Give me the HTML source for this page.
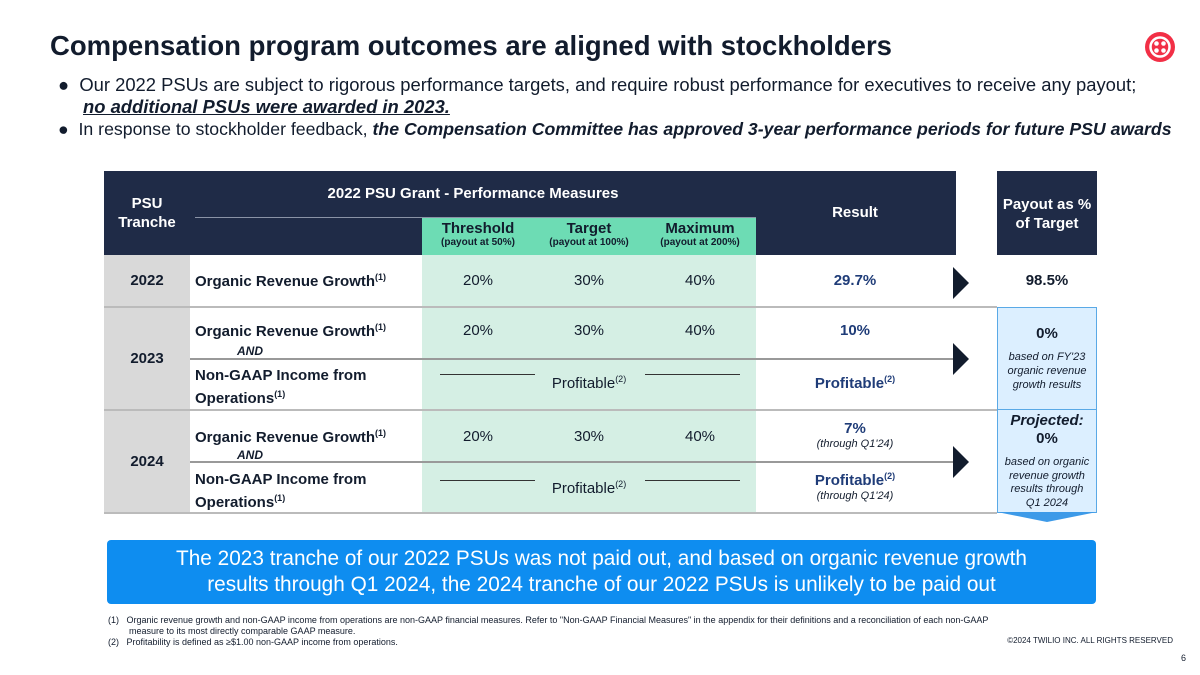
<!DOCTYPE html>
<html><head><meta charset="utf-8"><style>
*{margin:0;padding:0;box-sizing:border-box}
body{width:1200px;height:675px;background:#fff;font-family:"Liberation Sans","DejaVu Sans",sans-serif;position:relative;overflow:hidden;color:#121c2d}
.a{position:absolute}
.c{text-align:center}
.b{font-weight:bold}
.i{font-style:italic}
sup{font-size:9px}
.hd{color:#fff;font-weight:bold;font-size:15px}
.m{font-size:15px;font-weight:bold}
.v{font-size:15px}
.r{color:#1f3c78;font-weight:bold;font-size:15px}
.line{background:#999;height:2px}
.arrow{width:0;height:0;border-top:16px solid transparent;border-bottom:16px solid transparent;border-left:16px solid #121c2d}
.sm{font-size:11px}
</style></head><body>
<div class="a b" style="left:50px;top:30px;font-size:27.5px">Compensation program outcomes are aligned with stockholders</div>
<svg class="a" style="left:1145px;top:32px" width="30" height="30"><circle cx="15" cy="15" r="15" fill="#f22f46"/><circle cx="15" cy="15" r="9.5" fill="none" stroke="#fff" stroke-width="2.5"/><circle cx="11.5" cy="11.5" r="2.3" fill="#fff"/><circle cx="18.5" cy="11.5" r="2.3" fill="#fff"/><circle cx="11.5" cy="18.5" r="2.3" fill="#fff"/><circle cx="18.5" cy="18.5" r="2.3" fill="#fff"/></svg>
<div class="a" style="left:58px;top:74px;font-size:18.4px;line-height:22px;width:1130px;white-space:nowrap">● &nbsp;Our 2022 PSUs are subject to rigorous performance targets, and require robust performance for executives to receive any payout;<br><span style="margin-left:25px" class="b i"><u>no additional PSUs were awarded in 2023.</u></span></div>
<div class="a" style="left:58px;top:119px;font-size:17.7px;white-space:nowrap">● &nbsp;In response to stockholder feedback, <b><i>the Compensation Committee has approved 3-year performance periods for future PSU awards</i></b></div>

<div class="a" style="left:104px;top:171px;width:852px;height:84px;background:#1f2b47"></div>
<div class="a" style="left:997px;top:171px;width:100px;height:84px;background:#1f2b47"></div>
<div class="a hd c" style="left:104px;top:194px;width:86px;line-height:19px">PSU<br>Tranche</div>
<div class="a hd c" style="left:190px;top:185px;width:566px">2022 PSU Grant - Performance Measures</div>
<div class="a" style="left:195px;top:217px;width:561px;height:1px;background:#8a93a6"></div>
<div class="a" style="left:422px;top:218px;width:334px;height:37px;background:#6ddcb4"></div>
<div class="a b c" style="left:422px;top:220px;width:112px;font-size:15px">Threshold<div style="font-size:10px">(payout at 50%)</div></div>
<div class="a b c" style="left:534px;top:220px;width:110px;font-size:15px">Target<div style="font-size:10px">(payout at 100%)</div></div>
<div class="a b c" style="left:644px;top:220px;width:112px;font-size:15px">Maximum<div style="font-size:10px">(payout at 200%)</div></div>
<div class="a hd c" style="left:760px;top:204px;width:190px">Result</div>
<div class="a hd c" style="left:997px;top:195px;width:100px;line-height:19px">Payout as %<br>of Target</div>

<div class="a" style="left:104px;top:255px;width:86px;height:258px;background:#d9d9d9"></div>
<div class="a" style="left:422px;top:255px;width:334px;height:258px;background:#d5efe4"></div>
<div class="a" style="left:997px;top:307px;width:100px;height:206px;background:#dcefff;border:1px solid #5aa9e6"></div>
<svg class="a" style="left:997px;top:512px" width="100" height="10"><polygon points="0,0 100,0 50,10" fill="#3d9ae8"/></svg>

<div class="a" style="left:104px;top:306px;width:893px;height:2px;background:#bbb"></div>
<div class="a" style="left:104px;top:409px;width:893px;height:2px;background:#bbb"></div>
<div class="a" style="left:104px;top:512px;width:893px;height:2px;background:#bbb"></div>
<div class="a" style="left:190px;top:358px;width:765px;height:2px;background:#999"></div>
<div class="a" style="left:190px;top:461px;width:765px;height:2px;background:#999"></div>
<div class="a" style="left:997px;top:409px;width:100px;height:1px;background:#5aa9e6"></div>

<div class="a b c" style="left:104px;top:272px;width:86px;font-size:15px">2022</div>
<div class="a b c" style="left:104px;top:350px;width:86px;font-size:15px">2023</div>
<div class="a b c" style="left:104px;top:453px;width:86px;font-size:15px">2024</div>

<div class="a m" style="left:195px;top:272px">Organic Revenue Growth<sup>(1)</sup></div>
<div class="a v c" style="left:422px;top:272px;width:112px">20%</div><div class="a v c" style="left:534px;top:272px;width:110px">30%</div><div class="a v c" style="left:644px;top:272px;width:112px">40%</div>
<div class="a r c" style="left:760px;top:272px;width:190px">29.7%</div>
<div class="a arrow" style="left:953px;top:267px"></div>
<div class="a b c" style="left:997px;top:272px;width:100px;font-size:15px">98.5%</div>

<div class="a m" style="left:195px;top:322px">Organic Revenue Growth<sup>(1)</sup></div>
<div class="a b i" style="left:237px;top:344px;font-size:12px">AND</div>
<div class="a v c" style="left:422px;top:322px;width:112px">20%</div><div class="a v c" style="left:534px;top:322px;width:110px">30%</div><div class="a v c" style="left:644px;top:322px;width:112px">40%</div>
<div class="a r c" style="left:760px;top:322px;width:190px">10%</div>
<div class="a m" style="left:195px;top:367px;line-height:18px">Non-GAAP Income from<br>Operations<sup>(1)</sup></div>
<div class="a line" style="left:440px;top:374px;width:95px;height:1px;background:#333"></div>
<div class="a line" style="left:645px;top:374px;width:95px;height:1px;background:#333"></div>
<div class="a v c" style="left:534px;top:374px;width:110px">Profitable<sup>(2)</sup></div>
<div class="a r c" style="left:760px;top:374px;width:190px">Profitable<sup>(2)</sup></div>
<div class="a arrow" style="left:953px;top:343px"></div>
<div class="a b c" style="left:997px;top:325px;width:100px;font-size:15px">0%</div>
<div class="a i c sm" style="left:997px;top:350px;width:100px;line-height:14px">based on FY'23<br>organic revenue<br>growth results</div>

<div class="a m" style="left:195px;top:428px">Organic Revenue Growth<sup>(1)</sup></div>
<div class="a b i" style="left:237px;top:448px;font-size:12px">AND</div>
<div class="a v c" style="left:422px;top:428px;width:112px">20%</div><div class="a v c" style="left:534px;top:428px;width:110px">30%</div><div class="a v c" style="left:644px;top:428px;width:112px">40%</div>
<div class="a r c" style="left:760px;top:420px;width:190px">7%</div>
<div class="a i c sm" style="left:760px;top:438px;width:190px">(through Q1'24)</div>
<div class="a m" style="left:195px;top:471px;line-height:18px">Non-GAAP Income from<br>Operations<sup>(1)</sup></div>
<div class="a line" style="left:440px;top:480px;width:95px;height:1px;background:#333"></div>
<div class="a line" style="left:645px;top:480px;width:95px;height:1px;background:#333"></div>
<div class="a v c" style="left:534px;top:479px;width:110px">Profitable<sup>(2)</sup></div>
<div class="a r c" style="left:760px;top:471px;width:190px">Profitable<sup>(2)</sup></div>
<div class="a i c sm" style="left:760px;top:490px;width:190px">(through Q1'24)</div>
<div class="a arrow" style="left:953px;top:446px"></div>
<div class="a b i c" style="left:997px;top:412px;width:100px;font-size:15px;line-height:18px">Projected:<br><span style="font-style:normal">0%</span></div>
<div class="a i c sm" style="left:997px;top:456px;width:100px;line-height:13.5px">based on organic<br>revenue growth<br>results through<br>Q1 2024</div>

<div class="a c" style="left:107px;top:540px;width:989px;height:64px;background:#0e8df0;border-radius:4px;color:#fff;font-size:20.8px;line-height:26px;padding-top:6px">The 2023 tranche of our 2022 PSUs was not paid out, and based on organic revenue growth<br>results through Q1 2024, the 2024 tranche of our 2022 PSUs is unlikely to be paid out</div>

<div class="a" style="left:108px;top:615px;font-size:9px;line-height:11px;width:920px">
<div>(1)&nbsp;&nbsp; Organic revenue growth and non-GAAP income from operations are non-GAAP financial measures. Refer to "Non-GAAP Financial Measures" in the appendix for their definitions and a reconciliation of each non-GAAP</div>
<div style="padding-left:21px">measure to its most directly comparable GAAP measure.</div>
<div>(2)&nbsp;&nbsp; Profitability is defined as ≥$1.00 non-GAAP income from operations.</div></div>
<div class="a" style="right:27px;top:636px;font-size:8px">©2024 TWILIO INC. ALL RIGHTS RESERVED</div>
<div class="a" style="right:14px;top:653px;font-size:9px">6</div>
</body></html>
